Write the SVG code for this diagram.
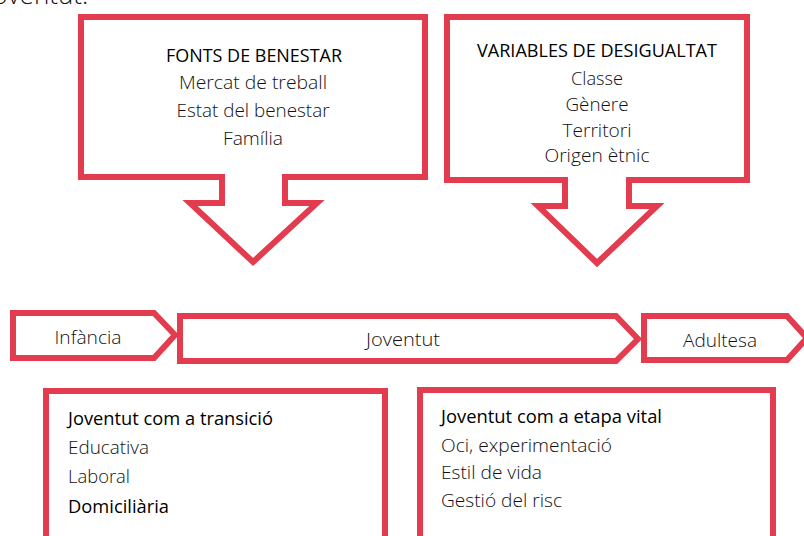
<svg xmlns="http://www.w3.org/2000/svg" width="804" height="536" viewBox="0 0 804 536">
<style>
.shape{fill:#fff;stroke:#e33c4f;stroke-width:6;stroke-linejoin:miter}
.hd{font-family:"Open Sans","Liberation Sans",sans-serif;font-size:18px;fill:#000}
.bd{font-family:"Open Sans","Liberation Sans",sans-serif;font-size:18px;font-weight:300;fill:#111}
.c{text-anchor:middle}
</style>
<rect width="804" height="536" fill="#fff"/>
<text x="-14" y="4" font-family="Open Sans, Liberation Sans, sans-serif" font-size="26" font-weight="300" fill="#111">Joventut.</text>
<g id="fonts-benestar">
<path class="shape" d="M81,17 H425 V177 H285 V203 H317 L253,262 L190,203 H222 V177 H81 Z"/>
<text class="hd c" x="254" y="62" textLength="176" lengthAdjust="spacingAndGlyphs">FONTS DE BENESTAR</text>
<text class="bd c" x="253" y="89" textLength="148" lengthAdjust="spacingAndGlyphs">Mercat de treball</text>
<text class="bd c" x="253" y="117" textLength="153" lengthAdjust="spacingAndGlyphs">Estat del benestar</text>
<text class="bd c" x="253" y="145" textLength="60" lengthAdjust="spacingAndGlyphs">Família</text>
</g>
<g id="variables-desigualtat">
<path class="shape" d="M447,17 H747 V180 H629 V206 H657 L597,263 L538,206 H565 V180 H447 Z"/>
<text class="hd c" x="597" y="57" textLength="240" lengthAdjust="spacingAndGlyphs">VARIABLES DE DESIGUALTAT</text>
<text class="bd c" x="597" y="85" textLength="52" lengthAdjust="spacingAndGlyphs">Classe</text>
<text class="bd c" x="597" y="111" textLength="63" lengthAdjust="spacingAndGlyphs">Gènere</text>
<text class="bd c" x="597" y="137" textLength="69" lengthAdjust="spacingAndGlyphs">Territori</text>
<text class="bd c" x="597" y="162" textLength="105" lengthAdjust="spacingAndGlyphs">Origen ètnic</text>
</g>
<g id="infancia">
<path class="shape" d="M13,313 H154 L175,335 L154,358 H13 Z"/>
<text class="bd c" x="88" y="344" textLength="67" lengthAdjust="spacingAndGlyphs">Infància</text>
</g>
<g id="joventut">
<path class="shape" d="M180,316 H616 L638,339 L616,361 H180 Z"/>
<text class="bd c" x="403" y="346" textLength="74" lengthAdjust="spacingAndGlyphs">Joventut</text>
</g>
<g id="adultesa">
<path class="shape" d="M644,316 H787 L807,338 L787,360 H644 Z"/>
<text class="bd c" x="720" y="347" textLength="74" lengthAdjust="spacingAndGlyphs">Adultesa</text>
</g>
<g id="transicio">
<path class="shape" d="M46,545 V391 H385 V545"/>
<text class="hd" x="68" y="425" textLength="205" lengthAdjust="spacingAndGlyphs">Joventut com a transició</text>
<text class="bd" x="68" y="454" textLength="81" lengthAdjust="spacingAndGlyphs">Educativa</text>
<text class="bd" x="68" y="483" textLength="62" lengthAdjust="spacingAndGlyphs">Laboral</text>
<text class="hd" x="68" y="513" textLength="101" lengthAdjust="spacingAndGlyphs">Domiciliària</text>
</g>
<g id="etapa-vital">
<path class="shape" d="M420,545 V390 H773 V545"/>
<text class="hd" x="441" y="423" textLength="221" lengthAdjust="spacingAndGlyphs">Joventut com a etapa vital</text>
<text class="bd" x="441" y="452" textLength="171" lengthAdjust="spacingAndGlyphs">Oci, experimentació</text>
<text class="bd" x="441" y="479" textLength="101" lengthAdjust="spacingAndGlyphs">Estil de vida</text>
<text class="bd" x="441" y="507" textLength="121" lengthAdjust="spacingAndGlyphs">Gestió del risc</text>
</g>
<g id="connectors"></g>
</svg>
